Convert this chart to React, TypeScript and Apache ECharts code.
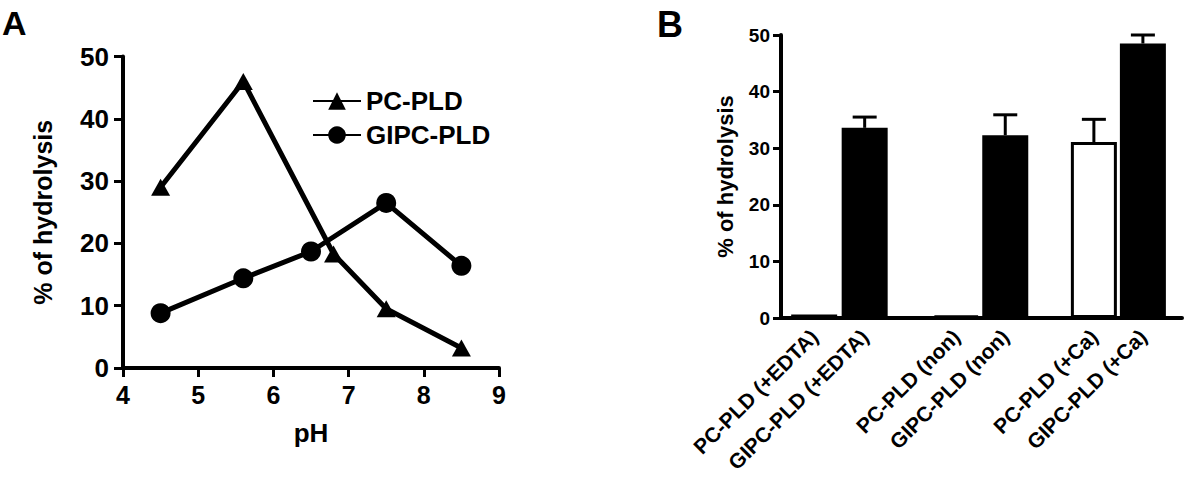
import React, { useEffect, useRef } from "react";
import * as echarts from "echarts";

// Panel A: % of hydrolysis vs pH
const pcPh = [4.5, 5.6, 6.8, 7.5, 8.5];
const pcHydrolysis = [29, 46, 18.3, 9.5, 3.2];
const gipcPh = [4.5, 5.6, 6.5, 7.5, 8.5];
const gipcHydrolysis = [8.8, 14.4, 18.7, 26.5, 16.4];
const phTicks = [4, 5, 6, 7, 8, 9];

// Panel B: bars with upward error bars
const barLabels = [
  "PC-PLD (+EDTA)",
  "GIPC-PLD (+EDTA)",
  "PC-PLD (non)",
  "GIPC-PLD (non)",
  "PC-PLD (+Ca)",
  "GIPC-PLD (+Ca)",
];
const barSlots = [0.67, 1.69, 3.54, 4.53, 6.32, 7.31];
const barValues = [0.6, 33.6, 0.4, 32.3, 31.1, 48.5];
const barErrors = [0, 1.9, 0, 3.6, 4.0, 1.5];
const barFilled = [false, true, false, true, false, true];

const FONT = "'Liberation Sans', Arial, sans-serif";

export default function App() {
  const ref = useRef<HTMLDivElement>(null);

  useEffect(() => {
    if (!ref.current) return;
    const chart = echarts.init(ref.current, null, { renderer: "svg" });

    const axisLine = { show: true, lineStyle: { color: "#000", width: 4 } };
    const axisTick = { show: true, length: 9, lineStyle: { color: "#000", width: 3 } };

    const option: any = {
      animation: false,
      backgroundColor: "#fff",
      graphic: [
        {
          type: "text",
          left: 2,
          top: 6,
          style: { text: "A", fontSize: 34, fontWeight: "bold", fontFamily: FONT, fill: "#000" },
        },
        {
          type: "text",
          left: 657,
          top: 6,
          style: { text: "B", fontSize: 36, fontWeight: "bold", fontFamily: FONT, fill: "#000" },
        },
      ],
      legend: {
        show: true,
        orient: "vertical",
        left: 312,
        top: 88,
        padding: 0,
        itemWidth: 48,
        itemHeight: 22,
        itemGap: 8,
        data: ["PC-PLD", "GIPC-PLD"],
        textStyle: { color: "#000", fontSize: 26, fontWeight: "bold", fontFamily: FONT },
      },
      grid: [
        { left: 123, top: 56.5, width: 376, height: 311.5, containLabel: false },
        { left: 781, top: 35, width: 401, height: 283, containLabel: false },
      ],
      xAxis: [
        {
          type: "value",
          gridIndex: 0,
          min: phTicks[0],
          max: phTicks[phTicks.length - 1],
          interval: 1,
          name: "pH",
          nameLocation: "middle",
          nameGap: 52,
          nameTextStyle: { color: "#000", fontSize: 26, fontWeight: "bold", fontFamily: FONT },
          axisLine,
          axisTick,
          splitLine: { show: false },
          axisLabel: { color: "#000", fontSize: 25, fontWeight: "bold", fontFamily: FONT, margin: 14 },
        },
        {
          type: "value",
          gridIndex: 1,
          min: 0,
          max: 8.1,
          axisLine,
          axisTick: { show: false },
          splitLine: { show: false },
          axisLabel: {
            show: true,
            customValues: barSlots,
            rotate: 45,
            margin: 15,
            color: "#000",
            fontSize: 21,
            fontWeight: "bold",
            fontFamily: FONT,
            formatter: (v: number) => {
              let best = 0;
              for (let i = 0; i < barSlots.length; i++) {
                if (Math.abs(barSlots[i] - v) < Math.abs(barSlots[best] - v)) best = i;
              }
              return barLabels[best];
            },
          },
        },
      ],
      yAxis: [
        {
          type: "value",
          gridIndex: 0,
          min: 0,
          max: 50,
          interval: 10,
          name: "% of hydrolysis",
          nameLocation: "middle",
          nameGap: 68,
          nameTextStyle: { color: "#000", fontSize: 25, fontWeight: "bold", fontFamily: FONT },
          axisLine,
          axisTick,
          splitLine: { show: false },
          axisLabel: { color: "#000", fontSize: 26, fontWeight: "bold", fontFamily: FONT, margin: 14 },
        },
        {
          type: "value",
          gridIndex: 1,
          min: 0,
          max: 50,
          interval: 10,
          name: "% of hydrolysis",
          nameLocation: "middle",
          nameGap: 45,
          nameTextStyle: { color: "#000", fontSize: 22, fontWeight: "bold", fontFamily: FONT },
          axisLine,
          axisTick: { show: true, length: 8, lineStyle: { color: "#000", width: 3 } },
          splitLine: { show: false },
          axisLabel: { color: "#000", fontSize: 19, fontWeight: "bold", fontFamily: FONT, margin: 11 },
        },
      ],
      series: [
        {
          name: "PC-PLD",
          type: "line",
          xAxisIndex: 0,
          yAxisIndex: 0,
          data: pcPh.map((x, i) => [x, pcHydrolysis[i]]),
          symbol: "triangle",
          symbolSize: [19, 17],
          showSymbol: true,
          lineStyle: { color: "#000", width: 5 },
          itemStyle: { color: "#000" },
          z: 3,
        },
        {
          name: "GIPC-PLD",
          type: "line",
          xAxisIndex: 0,
          yAxisIndex: 0,
          data: gipcPh.map((x, i) => [x, gipcHydrolysis[i]]),
          symbol: "circle",
          symbolSize: 20,
          showSymbol: true,
          lineStyle: { color: "#000", width: 5 },
          itemStyle: { color: "#000" },
          z: 3,
        },
        {
          name: "bars",
          type: "bar",
          xAxisIndex: 1,
          yAxisIndex: 1,
          barWidth: 46,
          data: barSlots.map((s, i) => ({
            value: [s, barValues[i]],
            itemStyle: {
              color: barFilled[i] ? "#000" : "#fff",
              borderColor: "#000",
              borderWidth: 3,
            },
          })),
        },
        {
          name: "errors",
          type: "custom",
          xAxisIndex: 1,
          yAxisIndex: 1,
          data: barSlots
            .map((s, i) => [s, barValues[i], barErrors[i]])
            .filter((d) => d[2] > 0),
          renderItem: (params: any, api: any) => {
            const x = api.value(0);
            const v = api.value(1);
            const e = api.value(2);
            const p0 = api.coord([x, v]);
            const p1 = api.coord([x, v + e]);
            const hw = 12;
            const style = { stroke: "#000", lineWidth: 3 };
            return {
              type: "group",
              children: [
                { type: "line", shape: { x1: p0[0], y1: p0[1], x2: p1[0], y2: p1[1] }, style },
                { type: "line", shape: { x1: p1[0] - hw, y1: p1[1], x2: p1[0] + hw, y2: p1[1] }, style },
              ],
            };
          },
          z: 4,
        },
      ],
    };

    chart.setOption(option);
    return () => chart.dispose();
  }, []);

  return (
    <div
      ref={ref}
      style={{ position: "fixed", left: 0, top: 0, width: 1194, height: 478, background: "#fff" }}
    />
  );
}
